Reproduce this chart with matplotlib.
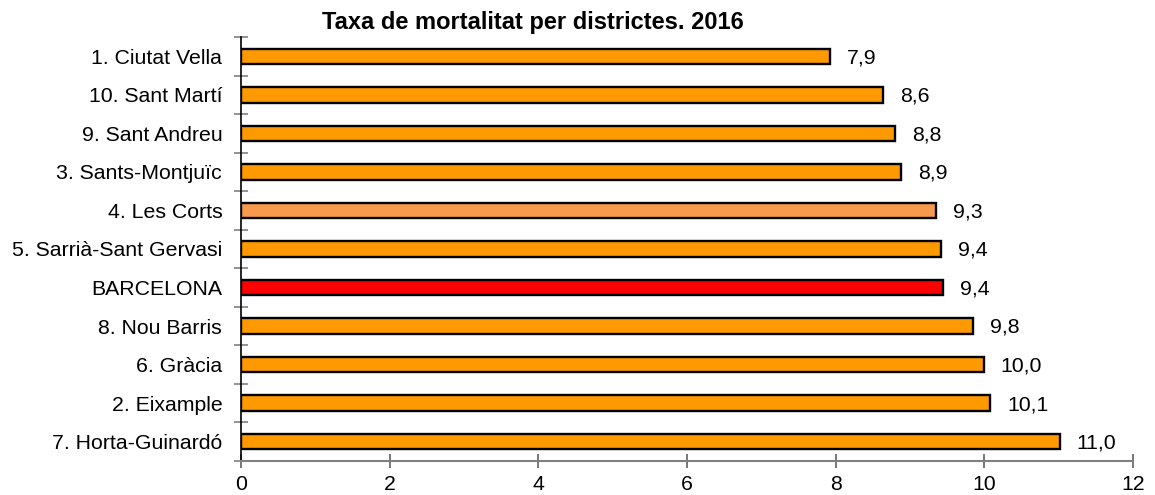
import matplotlib.pyplot as plt
import numpy as np

plt.rcParams['font.family'] = ['Liberation Sans', 'DejaVu Sans']

categories = ["1. Ciutat Vella", "10. Sant Martí", "9. Sant Andreu", "3. Sants-Montjuïc",
              "4. Les Corts", "5. Sarrià-Sant Gervasi", "BARCELONA", "8. Nou Barris",
              "6. Gràcia", "2. Eixample", "7. Horta-Guinardó"]
values = [7.93, 8.64, 8.80, 8.88, 9.35, 9.42, 9.45, 9.85, 9.99, 10.08, 11.02]
labels = ["7,9", "8,6", "8,8", "8,9", "9,3", "9,4", "9,4", "9,8", "10,0", "10,1", "11,0"]
colors = ["#FF9900"] * 11
colors[4] = "#F79A4E"
colors[6] = "#FF0000"

fig = plt.figure(figsize=(11.55, 4.95), dpi=100)
ax = fig.add_axes([241/1155, 1-461/495, (1133-241)/1155, (461-37)/495])

y = np.arange(len(categories))
ax.barh(y, values, height=0.4, color=colors, edgecolor="black", linewidth=1.7)
ax.set_ylim(len(categories) - 0.5, -0.5)
ax.set_xlim(0, 12)
ax.set_xticks([0, 2, 4, 6, 8, 10, 12])
ax.set_xticklabels(["0", "2", "4", "6", "8", "10", "12"], fontsize=15.3)
ax.set_yticks(y)
ax.set_yticklabels(categories, fontsize=15.3)
ax.tick_params(axis="y", which="major", length=0, pad=13.5)
ax.set_yticks(np.arange(-0.5, len(categories)), minor=True)
ax.tick_params(axis="y", which="minor", length=9.5, direction="inout", color="#808080", width=1.2)
ax.tick_params(axis="x", which="major", length=9.5, direction="inout", color="#606060", width=1.2, pad=5.5)

for s in ["top", "right"]:
    ax.spines[s].set_visible(False)
ax.spines["left"].set_color("black")
ax.spines["left"].set_linewidth(1.2)
ax.spines["bottom"].set_color("#808080")
ax.spines["bottom"].set_linewidth(1.5)

for yi, v, lab in zip(y, values, labels):
    ax.annotate(lab, (v, yi), xytext=(12, -1), textcoords="offset points",
                va="center", ha="left", fontsize=15.3)

fig.text(533/1155, 1-23/495, "Taxa de mortalitat per districtes. 2016",
         ha="center", va="center", fontsize=17, fontweight="bold")

fig.savefig("out.png", dpi=100)
